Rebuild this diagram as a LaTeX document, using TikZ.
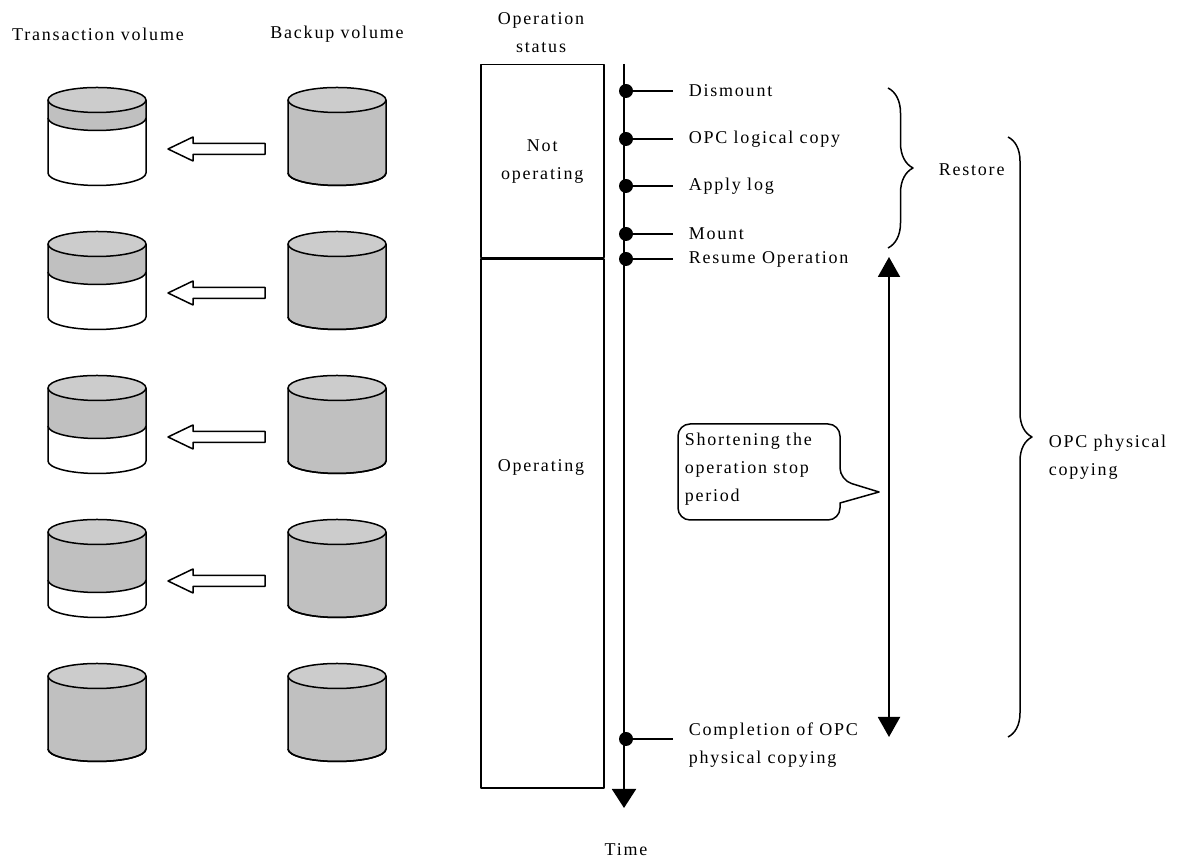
\documentclass[tikz,border=0pt]{standalone}
\usepackage{fontspec}
\setmainfont{Liberation Serif}[LetterSpace=10]
\usetikzlibrary{arrows.meta, positioning, decorations.pathreplacing}
\definecolor{DrumBody}{HTML}{C0C0C0}
\definecolor{DrumTop}{HTML}{CCCCCC}
\newcommand{\lblfont}{\fontsize{18}{28}\selectfont}
\tikzset{
  lbl/.style={font=\lblfont, inner sep=0pt, align=left},
  ctrlbl/.style={font=\lblfont, inner sep=0pt, align=center},
  statbox/.style={draw, line width=1.5pt, minimum width=123pt, inner sep=0pt,
                  font=\lblfont, align=center},
  evdot/.style={circle, fill, inner sep=0pt, minimum size=14pt},
  tick/.style={line width=2pt},
  brc/.style={decorate, decoration={brace, amplitude=#1}, line width=1.5pt},
}
% drum: name, x, y of top centre, depth of the grey band
\newcommand{\drum}[4]{%
  \fill[white] (#2-49,#3) -- (#2-49,#3-73)
    arc[start angle=180, end angle=360, x radius=49, y radius=12.5] -- (#2+49,#3) -- cycle;
  \fill[DrumBody] (#2-49,#3) -- (#2-49,#3-#4)
    arc[start angle=180, end angle=360, x radius=49, y radius=12.5] -- (#2+49,#3) -- cycle;
  \draw (#2-49,#3-#4) arc[start angle=180, end angle=360, x radius=49, y radius=12.5];
  \draw (#2-49,#3) -- (#2-49,#3-73)
    arc[start angle=180, end angle=360, x radius=49, y radius=12.5] -- (#2+49,#3);
  \draw[fill=DrumTop] (#2,#3) ellipse[x radius=49, y radius=12.5];
  \coordinate (#1) at (#2,#3-36.5);
}
% hollow arrow pointing left: x of tip, y
\newcommand{\copyarrow}[2]{%
  \draw[fill=white] (#1,#2) -- (#1+25,#2+12) -- (#1+25,#2+5.5) -- (#1+97,#2+5.5)
    -- (#1+97,#2-5.5) -- (#1+25,#2-5.5) -- (#1+25,#2-12) -- cycle;
}

\begin{document}
\begin{tikzpicture}[x=1pt, y=1pt, line width=1.5pt, line join=round,
    dbl/.style={{Triangle[length=20pt,width=22pt]}-{Triangle[length=20pt,width=22pt]}, line width=2pt}]
  \useasboundingbox (0,0) rectangle (1195,866);

  % volumes
  \node[ctrlbl] (tvtitle) at (98,832) {Transaction volume};
  \node[ctrlbl] (bvtitle) at (337,832) {Backup volume};
  \foreach \i/\band in {0/18, 1/28, 2/38, 3/48, 4/73}{
    \drum{tv\i}{97}{766-144*\i}{\band}
    \drum{bv\i}{337}{766-144*\i}{73}
  }
  \foreach \i in {0,1,2,3}{
    \copyarrow{168}{717-144*\i}
  }

  % operation status
  \node[ctrlbl] (sttitle) at (541,833) {Operation\\status};
  \node[statbox, minimum height=193pt, anchor=north west] (notop) at (480,802) {Not\\operating};
  \node[statbox, minimum height=529pt, below=0pt of notop] (oper) {};
  \node[ctrlbl] (opertxt) at (541,399) {Operating};

  % time line
  \coordinate (tstart) at (624,802);
  \coordinate (tend) at (624,58);
  \draw[-{Triangle[length=19pt,width=24pt]}, line width=2pt] (tstart) -- (tend);
  \node[ctrlbl] (timelbl) at (626,16) {Time};

  \foreach \n/\y/\txt in {1/775/Dismount, 2/727/OPC logical copy, 3/680/Apply log,
                          4/632/Mount, 5/607/Resume Operation}{
    \node[evdot] (dot\n) at (626,\y) {};
    \coordinate (tk\n) at (673,\y);
    \draw[tick] (dot\n.center) -- (tk\n);
    \node[lbl, right=15pt of tk\n] (ev\n) {\txt};
  }
  \node[evdot] (dot6) at (626,127) {};
  \coordinate (tk6) at (673,127);
  \draw[tick] (dot6.center) -- (tk6);
  \node[lbl, anchor=west] (ev6) at (688,121) {Completion of OPC\\physical copying};

  % stop period
  \coordinate (stopA) at (889,609);
  \coordinate (stopB) at (889,129);
  \draw[dbl] (stopA) -- (stopB);
  \draw (678,442) [rounded corners=12pt] -- (840,442) -- (840,386) [sharp corners] -- (879,374)
    -- (840,363) [rounded corners=12pt] -- (840,346) -- (678,346) -- cycle;
  \node[lbl, anchor=west] (bubtxt) at (684,397) {Shortening the\\operation stop\\period};

  % braces
  \coordinate (rsA) at (888,778);
  \coordinate (rsB) at (888,618);
  \draw[brc=25pt] (rsA) -- (rsB);
  \node[lbl, anchor=west] (rslbl) at (938,696) {Restore};
  \coordinate (pcA) at (1008,729);
  \coordinate (pcB) at (1008,129);
  \draw[brc=24pt] (pcA) -- (pcB);
  \node[lbl, anchor=west] (pclbl) at (1048,409) {OPC physical\\copying};
\end{tikzpicture}
\end{document}
